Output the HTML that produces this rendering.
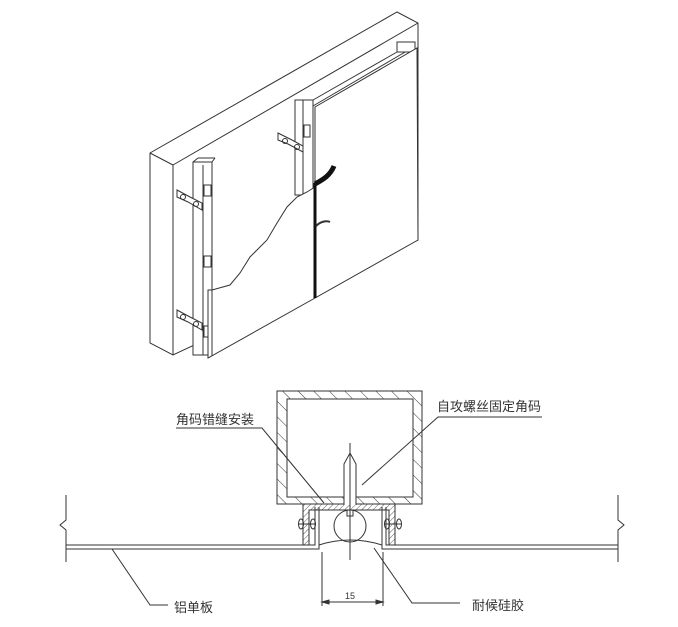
<!DOCTYPE html>
<html><head><meta charset="utf-8"><style>
html,body{margin:0;padding:0;background:#fff;}
svg{display:block;}
text{font-family:"Liberation Sans","Noto Sans CJK SC",sans-serif;fill:#333;}
</style></head><body>
<svg width="678" height="627" viewBox="0 0 678 627" xmlns="http://www.w3.org/2000/svg">
<defs>
<pattern id="h" width="11" height="11" patternUnits="userSpaceOnUse" patternTransform="rotate(-45)">
<line x1="0" y1="0" x2="0" y2="11" stroke="#333" stroke-width="1"/>
</pattern>
<pattern id="h2" width="4" height="4" patternUnits="userSpaceOnUse" patternTransform="rotate(45)">
<line x1="0" y1="0" x2="0" y2="4" stroke="#333" stroke-width="0.8"/>
</pattern>
</defs>
<g fill="none" stroke="#333" stroke-width="1">
<!-- wall block -->
<polygon points="150,153 397,12 418,23 418,240 173,355 150,343" fill="#fff"/>
<line x1="173" y1="165" x2="418" y2="23"/>
<line x1="173" y1="165" x2="173" y2="355"/>
<line x1="150" y1="153" x2="173" y2="165"/>
<!-- top rail lines -->
<line x1="313" y1="100" x2="397" y2="52"/>
<line x1="313" y1="106" x2="412" y2="48"/>
<rect x="397" y="42" width="18" height="10" fill="#fff"/>
<!-- right panel -->
<polygon points="315,107 417,48 418,240 315,298" fill="#fff"/>
<!-- post 2 -->
<rect x="295" y="100" width="18" height="95" fill="#fff"/>
<line x1="303" y1="100" x2="303" y2="195"/>
<rect x="304" y="125" width="6" height="12" fill="#fff"/>
<!-- bracket upper right -->
<polygon points="278,133 292,140 303,146 303,152 288,144 278,140" fill="#fff"/>
<circle cx="285" cy="141" r="2.5"/><circle cx="297" cy="147" r="2.5"/>
<!-- left post -->
<rect x="193" y="162" width="19" height="193" fill="#fff"/>
<line x1="193" y1="162" x2="198" y2="158"/><line x1="212" y1="162" x2="215" y2="158"/>
<line x1="198" y1="158" x2="215" y2="158"/>
<line x1="203" y1="165" x2="203" y2="355"/>
<rect x="204" y="185" width="7" height="11" fill="#fff"/>
<rect x="204" y="256" width="7" height="11" fill="#fff"/>
<rect x="204" y="326" width="7" height="11" fill="#fff"/>
<!-- brackets left -->
<polygon points="177,190 190,197 202,203 202,210 188,202 177,197" fill="#fff"/>
<circle cx="183" cy="197" r="2.5"/><circle cx="196" cy="204" r="2.5"/>
<polygon points="177,310 190,317 202,323 202,330 188,322 177,317" fill="#fff"/>
<circle cx="183" cy="317" r="2.5"/><circle cx="196" cy="324" r="2.5"/>
<!-- left panel torn -->
<path d="M208,290 L212,290 L230,285 L240,273 L250,257 L267,240 L277,223 L287,207 L297,197 L307,192 L315,187 L315,298 L208,358 Z" fill="#fff"/>
<line x1="212" y1="290" x2="212" y2="356"/>
<!-- sealant -->
<line x1="315" y1="183" x2="315" y2="298" stroke="#111" stroke-width="3"/>
<path d="M315,184 C322,180 330,176 334,166" stroke="#111" stroke-width="5"/>
<path d="M316,226 C320,222 326,220 330,222" stroke="#333" stroke-width="2"/>
</g>

<!-- section -->
<g fill="none" stroke="#333" stroke-width="1">
<path d="M277,391 H422 V504 H277 Z M287,399 V497 H413 V399 Z" fill="url(#h)" fill-rule="evenodd"/>
<rect x="277" y="391" width="145" height="113"/>
<rect x="287" y="399" width="126" height="98"/>
<!-- brackets -->
<path d="M303,504 H395 V545 H389 V510 H309 V545 H303 Z" fill="url(#h2)"/>
<path d="M303,504 H395 V545 H389 V510 H309 V545 H303 Z"/>
<!-- bolts -->
<ellipse cx="301" cy="524" rx="2.5" ry="5"/><line x1="298" y1="524" x2="316" y2="524"/><ellipse cx="313" cy="524" rx="2.5" ry="5"/>
<ellipse cx="399" cy="524" rx="2.5" ry="5"/><line x1="384" y1="524" x2="402" y2="524"/><ellipse cx="387" cy="524" rx="2.5" ry="5"/>
<!-- panels -->
<polyline points="66,545 315,545 315,507"/>
<polyline points="66,549 319,549 319,507"/>
<polyline points="618,545 386,545 386,507"/>
<polyline points="618,549 382,549 382,507"/>
<!-- break lines -->
<polyline points="66,495 66,520 60,525 66,530 66,562"/>
<polyline points="618,495 618,520 624,525 618,530 618,562"/>
<!-- circle and sealant -->
<circle cx="350" cy="526" r="16" fill="#fff"/>
<path d="M319,545 Q350,535 382,545"/>
<rect x="347" y="510" width="6" height="6"/>
<!-- screw -->
<line x1="350" y1="443" x2="350" y2="560"/>
<polyline points="344,505 344,464 350,453 356,464 356,505" fill="#fff"/>
<line x1="350" y1="443" x2="350" y2="560"/>
<!-- dimension -->
<line x1="322" y1="552" x2="322" y2="606"/>
<line x1="383" y1="552" x2="383" y2="606"/>
<line x1="322" y1="602" x2="383" y2="602"/>
<polygon points="322,602 329,600 329,604" fill="#333"/>
<polygon points="383,602 376,600 376,604" fill="#333"/>
<!-- leaders -->
<polyline points="176,428 262,428 324,503"/>
<polyline points="542,417 438,417 362,485"/>
<polyline points="112,549 150,605 168,605"/>
<polyline points="374,548 412,603 460,603"/>
</g>
<text x="345" y="599" font-size="9">15</text>
<text x="176" y="424" font-size="13">角码错缝安装</text>
<text x="437" y="411" font-size="13">自攻螺丝固定角码</text>
<text x="174" y="612" font-size="13">铝单板</text>
<text x="472" y="610" font-size="13">耐候硅胶</text>
</svg>
</body></html>
